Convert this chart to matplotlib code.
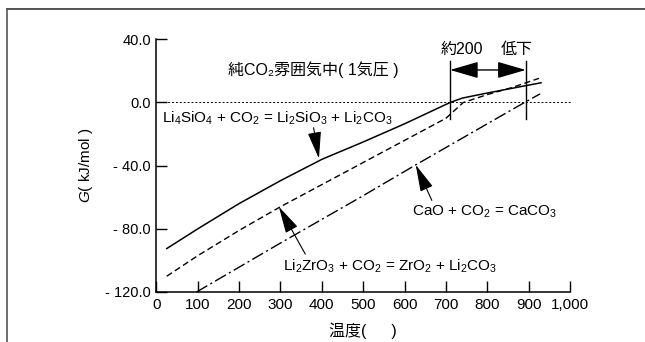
import matplotlib
matplotlib.use("Agg")
import matplotlib.pyplot as plt
from matplotlib.lines import Line2D

plt.rcParams["font.family"] = ["Liberation Sans", "Noto Sans CJK JP", "DejaVu Sans"]
plt.rcParams["mathtext.fontset"] = "custom"
plt.rcParams["mathtext.rm"] = "Liberation Sans"
plt.rcParams["mathtext.it"] = "Liberation Sans:italic"

# ==================================================
# Data
# ==================================================
# Li4SiO4 + CO2 = Li2SiO3 + Li2CO3 (solid)
t_si = [25, 100, 200, 300, 400, 500, 600, 710, 740, 800, 860, 930]
g_si = [-92.5, -80, -64, -49.5, -36, -25, -13.5, 0, 2.8, 6, 9, 12.5]

# Li2ZrO3 + CO2 = ZrO2 + Li2CO3 (dashed)
t_zr = [25, 100, 200, 300, 400, 500, 600, 700, 742, 800, 860, 925]
g_zr = [-110, -97, -81, -66, -52, -38, -24, -10, 0, 5, 9.5, 15.3]

# CaO + CO2 = CaCO3 (dash-dot)
t_ca = [97, 300, 500, 627, 800, 890, 928]
g_ca = [-120, -89, -59, -39.5, -13.5, 0, 5.5]

x_ticks = [0, 100, 200, 300, 400, 500, 600, 700, 800, 900, 1000]
x_tick_labels = ["0", "100", "200", "300", "400", "500", "600", "700", "800", "900", "1,000"]
y_ticks = [40, 0, -40, -80, -120]
y_tick_labels = ["40.0", "0.0", "- 40.0", "- 80.0", "- 120.0"]

# temperatures bracketing the "about 200 degrees lower" arrow
t_marks = [710, 893]

# ==================================================
# Plot
# ==================================================
fig = plt.figure(figsize=(6.45, 3.42), dpi=100)
ax = fig.add_axes([0.2425, 0.1462, 0.6412, 0.7388])

ax.plot(t_si, g_si, color="black", lw=1.1)
ax.plot(t_zr, g_zr, color="black", lw=1.0, dashes=(4.5, 2.5))
ax.plot(t_ca, g_ca, color="black", lw=1.0, dashes=(9, 2.5, 1.5, 2.5))

ax.plot([0, 1005], [0, 0], color="black", lw=0.7, dashes=(2, 2), clip_on=False)

for t in t_marks:
    ax.plot([t, t], [-10.5, 26.5], color="black", lw=1.0)

ax.annotate("", xy=(t_marks[0], 20.6), xytext=(t_marks[1], 20.6),
            arrowprops=dict(arrowstyle="<|-|>,head_length=1.1,head_width=0.32",
                            color="black", lw=1.0, mutation_scale=16,
                            shrinkA=0, shrinkB=0))
ax.text(739, 33.5, "約200", ha="center", va="center", fontsize=11.5)
ax.text(872, 33.5, "低下", ha="center", va="center", fontsize=11.5)

ax.text(379, 20.6, "純CO₂雰囲気中( 1気圧 )", ha="center", va="center",
        fontsize=11.5)

arrow_kw = dict(arrowstyle="-|>,head_length=1.2,head_width=0.3",
                color="black", lw=0.8, mutation_scale=14, shrinkA=0, shrinkB=0)

ax.text(14, -10, "Li$_4$SiO$_4$ + CO$_2$ = Li$_2$SiO$_3$ + Li$_2$CO$_3$",
        ha="left", va="center", fontsize=11)
ax.annotate("", xy=(393, -35.5), xytext=(380, -16), arrowprops=arrow_kw)

ax.text(617, -69, "CaO + CO$_2$ = CaCO$_3$", ha="left", va="center", fontsize=11)
ax.annotate("", xy=(627, -39.5), xytext=(666, -62), arrowprops=arrow_kw)

ax.text(306, -103.5, "Li$_2$ZrO$_3$ + CO$_2$ = ZrO$_2$ + Li$_2$CO$_3$",
        ha="left", va="center", fontsize=11)
ax.annotate("", xy=(296, -66), xytext=(360, -96), arrowprops=arrow_kw)

ax.set_xlim(0, 1000)
ax.set_ylim(-120, 40)
ax.set_xticks(x_ticks)
ax.set_xticklabels(x_tick_labels)
ax.set_yticks(y_ticks)
ax.set_yticklabels(y_tick_labels)
ax.tick_params(direction="in", length=8, width=1.0, labelsize=10.5, pad=4)
ax.tick_params(axis="x", labelsize=11)
ax.spines["top"].set_visible(False)
ax.spines["right"].set_visible(False)
for s in ["left", "bottom"]:
    ax.spines[s].set_linewidth(1.1)

ax.set_xlabel("温度(　  )", fontsize=11.5, labelpad=8)
ax.set_ylabel("$G$( kJ/mol )", fontsize=11, labelpad=7)

# outer frame (top and left edges only)
fig.add_artist(Line2D([7 / 645, 1.0], [1 - 9 / 342, 1 - 9 / 342],
                      transform=fig.transFigure, color="#333333", lw=1.2))
fig.add_artist(Line2D([7 / 645, 7 / 645], [0, 1 - 9 / 342],
                      transform=fig.transFigure, color="#555555", lw=1.2))

fig.savefig("out.png", dpi=100)
